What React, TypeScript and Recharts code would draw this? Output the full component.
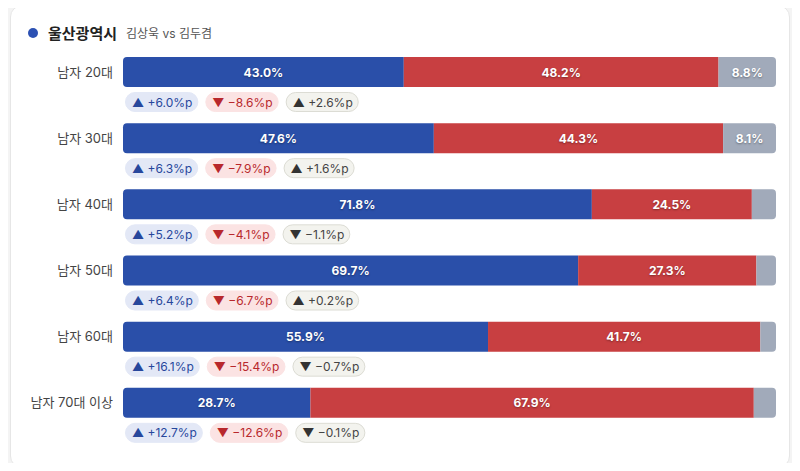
import React from "react";
import { BarChart, Bar, XAxis, YAxis, LabelList } from "recharts";

const categories = ["남자 20대", "남자 30대", "남자 40대", "남자 50대", "남자 60대", "남자 70대 이상"];
const kimSangwook = [43.0, 47.6, 71.8, 69.7, 55.9, 28.7];
const kimDugyeom = [48.2, 44.3, 24.5, 27.3, 41.7, 67.9];
const others = [8.8, 8.1, 3.7, 3.0, 2.4, 3.4];
const kimSangwookDelta = [6.0, 6.3, 5.2, 6.4, 16.1, 12.7];
const kimDugyeomDelta = [-8.6, -7.9, -4.1, -6.7, -15.4, -12.6];
const othersDelta = [2.6, 1.6, -1.1, 0.2, -0.7, -0.1];

const data = categories.map((name, i) => ({
  name,
  blue: kimSangwook[i],
  red: kimDugyeom[i],
  other: others[i],
}));

const FONT = "Inter, 'Noto Sans CJK KR', sans-serif";
const BLUE = "#2a4fa9";
const RED = "#c83f41";
const GRAY = "#a1aaba";

let ctx: CanvasRenderingContext2D | null = null;
function textWidth(s: string) {
  if (!ctx) ctx = document.createElement("canvas").getContext("2d");
  if (!ctx) return s.length * 7;
  ctx.font = `12px ${FONT}`;
  return ctx.measureText(s).width;
}

function fmtDelta(v: number) {
  const arrow = v >= 0 ? "▲" : "▼";
  const num = (v >= 0 ? "+" : "−") + Math.abs(v).toFixed(1) + "%p";
  return { arrow, num };
}

const badgeStyles = [
  { bg: "#e3e8f6", border: "#e3e8f6", color: "#27479c", arrow: "#27479c" },
  { bg: "#fbe3e3", border: "#fbe3e3", color: "#b8282c", arrow: "#b8282c" },
  { bg: "#f3f3ee", border: "#dcdcd4", color: "#444", arrow: "#333" },
];

function Badges(props: any) {
  const { x, y, height, index } = props;
  const deltas = [kimSangwookDelta[index], kimDugyeomDelta[index], othersDelta[index]];
  let cx = x + 2;
  const top = y + height + 5;
  return (
    <g>
      {deltas.map((d, k) => {
        const { arrow, num } = fmtDelta(d);
        const st = badgeStyles[k];
        const w = textWidth(arrow + " " + num) + 13;
        const bx = cx;
        cx += w + 7;
        return (
          <g key={k}>
            <rect x={bx + 0.5} y={top + 0.5} width={w - 1} height={19} rx={9.5} fill={st.bg} stroke={st.border} />
            <text x={bx + 7} y={top + 14.5} fontSize={12} fontFamily={FONT}>
              <tspan fill={st.arrow}>{arrow}</tspan>
              <tspan fill={st.color}>{" " + num}</tspan>
            </text>
          </g>
        );
      })}
    </g>
  );
}

function ValueLabel(props: any) {
  const { x, y, width, height, value } = props;
  if (value < 5) return null;
  return (
    <text
      x={x + width / 2}
      y={y + height / 2 + 4.5}
      textAnchor="middle"
      fill="#fff"
      fontSize={12}
      fontWeight={700}
      fontFamily={FONT}
      style={{ textShadow: "0 1px 2px rgba(0,0,0,0.35)" }}
    >
      {value.toFixed(1)}%
    </text>
  );
}

function CategoryTick(props: any) {
  const { x, y, payload } = props;
  return (
    <text x={x} y={y + 4.5} textAnchor="end" fill="#444" fontSize={13} fontFamily={FONT}>
      {payload.value}
    </text>
  );
}

export default function App() {
  return (
    <div style={{ position: "relative", width: 800, height: 471, margin: -8, background: "#f4f4f4", overflow: "hidden" }}>
      <div
        style={{
          position: "absolute",
          left: 10,
          top: 5,
          width: 778,
          height: 461,
          background: "#fff",
          border: "1px solid #e6e6e6",
          borderRadius: 12,
        }}
      />
      <div style={{ position: "absolute", left: 28, top: 22, display: "flex", alignItems: "center", fontFamily: FONT }}>
        <span style={{ width: 10, height: 10, borderRadius: 5, background: "#2c51b3", display: "inline-block" }} />
        <span style={{ marginLeft: 10, fontSize: 15, fontWeight: 700, color: "#222" }}>울산광역시</span>
        <span style={{ marginLeft: 9, fontSize: 12, color: "#555" }}>김상욱 vs 김두겸</span>
      </div>
      <div style={{ position: "absolute", left: 0, top: 0 }}>
        <BarChart
          width={800}
          height={471}
          data={data}
          layout="vertical"
          margin={{ top: 39, bottom: 35, left: 13, right: 24 }}
        >
          <XAxis type="number" domain={[0, 100]} hide />
          <YAxis
            type="category"
            dataKey="name"
            width={110}
            axisLine={false}
            tickLine={false}
            tickSize={0}
            tickMargin={10}
            tick={<CategoryTick />}
          />
          <Bar dataKey="blue" stackId="a" fill={BLUE} barSize={30} radius={[4, 0, 0, 4]} isAnimationActive={false}>
            <LabelList dataKey="blue" content={<ValueLabel />} />
            <LabelList dataKey="blue" content={<Badges />} />
          </Bar>
          <Bar dataKey="red" stackId="a" fill={RED} barSize={30} isAnimationActive={false}>
            <LabelList dataKey="red" content={<ValueLabel />} />
          </Bar>
          <Bar dataKey="other" stackId="a" fill={GRAY} barSize={30} radius={[0, 4, 4, 0]} isAnimationActive={false}>
            <LabelList dataKey="other" content={<ValueLabel />} />
          </Bar>
        </BarChart>
      </div>
    </div>
  );
}
